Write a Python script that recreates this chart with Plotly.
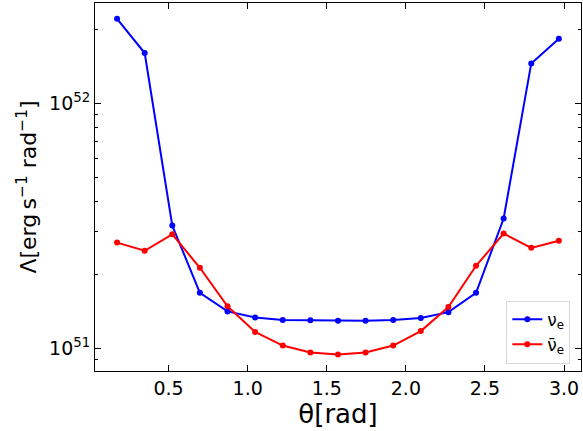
import numpy as np
import plotly.graph_objects as go

theta = [0.1745, 0.3491, 0.5236, 0.6981, 0.8727, 1.0472, 1.2217, 1.3963, 1.5708,
         1.7453, 1.9199, 2.0944, 2.2689, 2.4435, 2.6180, 2.7925, 2.9671]
nu_e = [2.22e52, 1.61e52, 3.18e51, 1.69e51, 1.42e51, 1.34e51, 1.31e51, 1.306e51, 1.30e51,
        1.30e51, 1.31e51, 1.334e51, 1.41e51, 1.69e51, 3.40e51, 1.46e52, 1.84e52]
nubar_e = [2.71e51, 2.51e51, 2.93e51, 2.14e51, 1.49e51, 1.17e51, 1.03e51, 0.966e51, 0.948e51,
           0.966e51, 1.03e51, 1.18e51, 1.48e51, 2.18e51, 2.95e51, 2.58e51, 2.76e51]
series_names = ["ν<sub>e</sub>", "ν\u0304<sub>e</sub>"]
x_ticks = [0.5, 1.0, 1.5, 2.0, 2.5, 3.0]
y_ticks = [1e51, 1e52]
y_ticktext = ["10<sup>51</sup>", "10<sup>52</sup>"]
y_minor = [9e50] + [k * 1e51 for k in range(2, 10)] + [2e52]

font = "DejaVu Sans"
fig = go.Figure()
for vals, name, color in [(nu_e, series_names[0], "#0000ff"), (nubar_e, series_names[1], "#ff0000")]:
    fig.add_trace(go.Scatter(x=theta, y=vals, mode="lines+markers", name=name,
                             line=dict(color=color, width=2),
                             marker=dict(color=color, size=6)))

fig.update_layout(
    width=583, height=431,
    margin=dict(l=95, r=2, t=3, b=60),
    plot_bgcolor="white", paper_bgcolor="white",
    font=dict(family=font, color="black", size=19),
    showlegend=True,
    legend=dict(x=0.978, y=0.02, xanchor="right", yanchor="bottom",
                bgcolor="white", bordercolor="#d8d8d8", borderwidth=1,
                font=dict(size=17), itemwidth=30, tracegroupgap=0),
)
fig.update_xaxes(range=[0.035, 3.107], tickvals=x_ticks, ticktext=["0.5", "1.0", "1.5", "2.0", "2.5", "3.0"],
                 ticks="inside", ticklen=6, tickwidth=1, tickcolor="black",
                 showline=True, linecolor="black", linewidth=1, mirror="ticks",
                 showgrid=False, zeroline=False,
                 tickfont=dict(size=19),
                 title=dict(text="θ[rad]", font=dict(size=26), standoff=2))
fig.update_yaxes(type="log", range=[50.909, 52.411], tickvals=y_ticks, ticktext=y_ticktext,
                 ticks="inside", ticklen=6, tickwidth=1, tickcolor="black",
                 showline=True, linecolor="black", linewidth=1, mirror="ticks",
                 showgrid=False, zeroline=False,
                 tickfont=dict(size=19),
                 minor=dict(tickvals=y_minor, ticks="inside", ticklen=3, tickcolor="black", showgrid=False),
                 title=dict(text="Λ[erg\u2009s<sup>−1</sup> rad<sup>−1</sup>]", font=dict(size=22), standoff=6))

fig.write_html("out.html")
